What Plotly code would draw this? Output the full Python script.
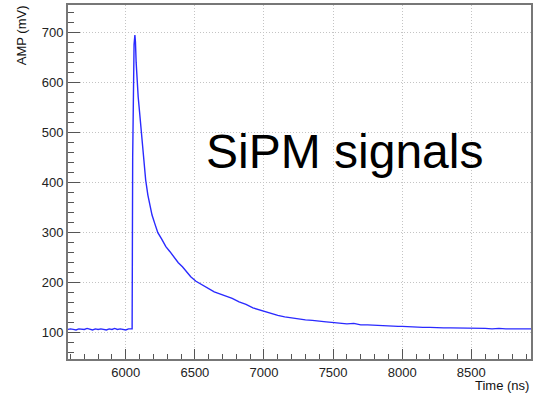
import plotly.graph_objects as go

# Waveform samples (time in ns, amplitude in mV)
time_ns = [5580, 5600, 5620, 5640, 5660, 5680, 5700, 5720, 5740, 5760, 5780, 5800,
           5820, 5840, 5860, 5880, 5900, 5920, 5940, 5960, 5980, 6000, 6020, 6040,
           6046, 6050, 6054, 6060, 6066, 6070, 6075, 6081, 6090, 6100, 6113, 6125,
           6135, 6144, 6160, 6175, 6190, 6210, 6232, 6260, 6290, 6320, 6350, 6380,
           6410, 6440, 6470, 6508, 6540, 6570, 6600, 6640, 6680, 6720, 6770, 6820,
           6870, 6920, 6964, 7010, 7060, 7100, 7150, 7201, 7250, 7300, 7350, 7400,
           7450, 7489, 7550, 7600, 7650, 7700, 7750, 7800, 7850, 7900, 7971, 8000,
           8050, 8100, 8150, 8200, 8250, 8300, 8350, 8400, 8450, 8500, 8550, 8600,
           8650, 8700, 8750, 8800, 8850, 8900, 8950]
amp_mv = [107, 108, 107, 106, 108, 107, 107, 109, 107, 106, 108, 107,
          108, 107, 106, 108, 107, 109, 107, 108, 107, 106, 108, 107,
          108, 450, 640, 675, 694, 680, 640, 600, 570, 540, 500, 465,
          430, 405, 375, 352, 335, 318, 300, 287, 272, 262, 250, 240,
          232, 222, 212, 203, 198, 192, 187, 182, 178, 174, 169, 162,
          157, 150, 146, 142, 138, 135, 132, 130, 127, 126, 125, 123,
          122, 121, 120, 118, 119, 116, 116, 115, 114, 114, 113, 113,
          112, 112, 111, 111, 110, 110, 110, 110, 109, 110, 109, 109,
          108, 109, 108, 108, 108, 107, 108]

x_range = [5582, 8932]
y_range = [48, 754]

fig = go.Figure()
fig.add_trace(go.Scatter(x=time_ns, y=amp_mv, mode="lines",
                         line=dict(color="#2a2aff", width=1.4), showlegend=False))

axis_common = dict(
    showline=True, linecolor="#777777", linewidth=2, mirror=True,
    ticks="inside", tickcolor="#555555", tickwidth=1,
    showgrid=True, gridcolor="#c4c4c4", griddash="1px,2px", gridwidth=1,
    zeroline=False,
    tickfont=dict(family="Liberation Sans, Arial, sans-serif", size=13, color="#222222"),
)

fig.update_xaxes(range=x_range, dtick=500, ticklen=10,
                 minor=dict(dtick=100, ticks="inside", ticklen=5, tickcolor="#555555", showgrid=False),
                 **axis_common)
fig.update_yaxes(range=y_range, dtick=100, ticklen=12,
                 minor=dict(dtick=20, ticks="inside", ticklen=6, tickcolor="#555555", showgrid=False),
                 **axis_common)

font_fam = "Liberation Sans, Arial, sans-serif"
fig.add_annotation(text="AMP (mV)", textangle=-90, xref="paper", yref="paper",
                   x=(22 - 68) / 465, y=1 + 2 / 354, xanchor="center", yanchor="top",
                   showarrow=False, font=dict(family=font_fam, size=13, color="#111111"))
fig.add_annotation(text="Time (ns)", xref="paper", yref="paper",
                   x=1, y=(359 - 385) / 354, xanchor="right", yanchor="middle",
                   showarrow=False, font=dict(family=font_fam, size=13, color="#111111"))
fig.add_annotation(text="SiPM signals", xref="paper", yref="paper",
                   x=(346 - 68) / 465, y=(359 - 151) / 354, xanchor="center", yanchor="middle",
                   showarrow=False, font=dict(family=font_fam, size=48, color="#000000"))

fig.update_layout(width=533, height=393, margin=dict(l=68, r=0, t=5, b=34),
                  paper_bgcolor="white", plot_bgcolor="white")

fig.write_html("out.html")
